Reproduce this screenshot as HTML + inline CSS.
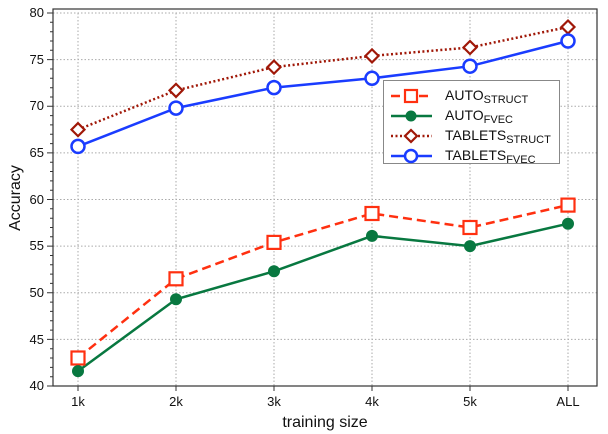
<!DOCTYPE html>
<html><head><style>body{margin:0;background:#fff}svg{display:block;font-family:"Liberation Sans",sans-serif}</style></head><body>
<svg width="608" height="434" viewBox="0 0 608 434">
<g stroke="#aaa" stroke-dasharray="1.5,2" stroke-width="1">
<line x1="53" x2="597" y1="339.4" y2="339.4"/><line x1="53" x2="597" y1="292.7" y2="292.7"/><line x1="53" x2="597" y1="246.1" y2="246.1"/><line x1="53" x2="597" y1="199.5" y2="199.5"/><line x1="53" x2="597" y1="152.9" y2="152.9"/><line x1="53" x2="597" y1="106.3" y2="106.3"/><line x1="53" x2="597" y1="59.6" y2="59.6"/><line x1="53" x2="597" y1="13" y2="13"/>
<line x1="78" x2="78" y1="13" y2="386"/><line x1="176" x2="176" y1="13" y2="386"/><line x1="274" x2="274" y1="13" y2="386"/><line x1="372" x2="372" y1="13" y2="386"/><line x1="470" x2="470" y1="13" y2="386"/><line x1="568" x2="568" y1="13" y2="386"/>
</g>
<rect x="53" y="9" width="544" height="377" fill="none" stroke="#333" stroke-width="1.2"/>
<path stroke="#333" stroke-width="1" fill="none" d="M47 386H53M50 376.7H53M50 367.4H53M50 358H53M50 348.7H53M47 339.4H53M50 330.1H53M50 320.7H53M50 311.4H53M50 302.1H53M47 292.75H53M50 283.4H53M50 274.1H53M50 264.8H53M50 255.5H53M47 246.1H53M50 236.8H53M50 227.5H53M50 218.2H53M50 208.8H53M47 199.5H53M50 190.2H53M50 180.9H53M50 171.5H53M50 162.2H53M47 152.9H53M50 143.6H53M50 134.3H53M50 124.9H53M50 115.6H53M47 106.3H53M50 97H53M50 87.7H53M50 78.3H53M50 69H53M47 59.6H53M50 50.3H53M50 41H53M50 31.7H53M50 22.3H53M47 13H53M78 386V391M176 386V391M274 386V391M372 386V391M470 386V391M568 386V391"/>
<g font-size="13" fill="#111" text-anchor="end">
<text x="44" y="390">40</text><text x="44" y="344">45</text><text x="44" y="297">50</text><text x="44" y="250">55</text><text x="44" y="204">60</text><text x="44" y="157">65</text><text x="44" y="110">70</text><text x="44" y="64">75</text><text x="44" y="17">80</text>
</g>
<g font-size="13" fill="#111" text-anchor="middle">
<text x="78" y="406">1k</text><text x="176" y="406">2k</text><text x="274" y="406">3k</text><text x="372" y="406">4k</text><text x="470" y="406">5k</text><text x="568" y="406">ALL</text>
<text x="325" y="427" font-size="16">training size</text>
<text transform="translate(20,198) rotate(-90)" font-size="16">Accuracy</text>
</g>
<polyline fill="none" stroke="#a01808" stroke-width="2.5" stroke-dasharray="2,2.5" points="78,129.6 176,90.4 274,67.1 372,55.9 470,47.5 568,27"/>
<polyline fill="none" stroke="#1a3cff" stroke-width="2.5" points="78,146.4 176,108.1 274,87.6 372,78.3 470,66.2 568,41"/>
<polyline fill="none" stroke="#ff3010" stroke-width="2.5" stroke-dasharray="9,5" points="78,358 176,278.8 274,242.4 372,213.5 470,227.5 568,205.1"/>
<polyline fill="none" stroke="#087840" stroke-width="2.5" points="78,371.1 176,299.3 274,271.3 372,235.9 470,246.1 568,223.7"/>
<g fill="#fff" stroke="#a01808" stroke-width="2.2">
<path d="M78 123.1L84.5 129.6L78 136.1L71.5 129.6Z"/><path d="M176 83.9L182.5 90.4L176 96.9L169.5 90.4Z"/><path d="M274 60.6L280.5 67.1L274 73.6L267.5 67.1Z"/><path d="M372 49.4L378.5 55.9L372 62.4L365.5 55.9Z"/><path d="M470 41L476.5 47.5L470 54L463.5 47.5Z"/><path d="M568 20.5L574.5 27L568 33.5L561.5 27Z"/>
</g>
<g fill="#fff" stroke="#1a3cff" stroke-width="2.5">
<circle cx="78" cy="146.4" r="6.5"/><circle cx="176" cy="108.1" r="6.5"/><circle cx="274" cy="87.6" r="6.5"/><circle cx="372" cy="78.3" r="6.5"/><circle cx="470" cy="66.2" r="6.5"/><circle cx="568" cy="41" r="6.5"/>
</g>
<g fill="#fff" stroke="#ff3010" stroke-width="2.2">
<rect x="71.5" y="351.5" width="13" height="13"/><rect x="169.5" y="272.3" width="13" height="13"/><rect x="267.5" y="235.9" width="13" height="13"/><rect x="365.5" y="207" width="13" height="13"/><rect x="463.5" y="221" width="13" height="13"/><rect x="561.5" y="198.6" width="13" height="13"/>
</g>
<g fill="#087840">
<circle cx="78" cy="371.1" r="6"/><circle cx="176" cy="299.3" r="6"/><circle cx="274" cy="271.3" r="6"/><circle cx="372" cy="235.9" r="6"/><circle cx="470" cy="246.1" r="6"/><circle cx="568" cy="223.7" r="6"/>
</g>
<rect x="383.5" y="80.5" width="176" height="83" fill="#fff" stroke="#888"/>
<line x1="391" x2="432" y1="96" y2="96" stroke="#ff3010" stroke-width="2.5" stroke-dasharray="9,5"/>
<rect x="405" y="90" width="12" height="12" fill="#fff" stroke="#ff3010" stroke-width="2.2"/>
<line x1="391" x2="432" y1="116" y2="116" stroke="#087840" stroke-width="2.5"/>
<circle cx="411" cy="116" r="5.5" fill="#087840"/>
<line x1="391" x2="432" y1="136" y2="136" stroke="#a01808" stroke-width="2.5" stroke-dasharray="2,2.5"/>
<path d="M411 130L417 136L411 142L405 136Z" fill="#fff" stroke="#a01808" stroke-width="2.2"/>
<line x1="391" x2="432" y1="156" y2="156" stroke="#1a3cff" stroke-width="2.5"/>
<circle cx="411" cy="156" r="6" fill="#fff" stroke="#1a3cff" stroke-width="2.5"/>
<g font-size="14" fill="#111">
<text x="445" y="100">AUTO<tspan font-size="11" dy="3">STRUCT</tspan></text>
<text x="445" y="120">AUTO<tspan font-size="11" dy="3">FVEC</tspan></text>
<text x="445" y="140">TABLETS<tspan font-size="11" dy="3">STRUCT</tspan></text>
<text x="445" y="160">TABLETS<tspan font-size="11" dy="3">FVEC</tspan></text>
</g>
</svg>
</body></html>
